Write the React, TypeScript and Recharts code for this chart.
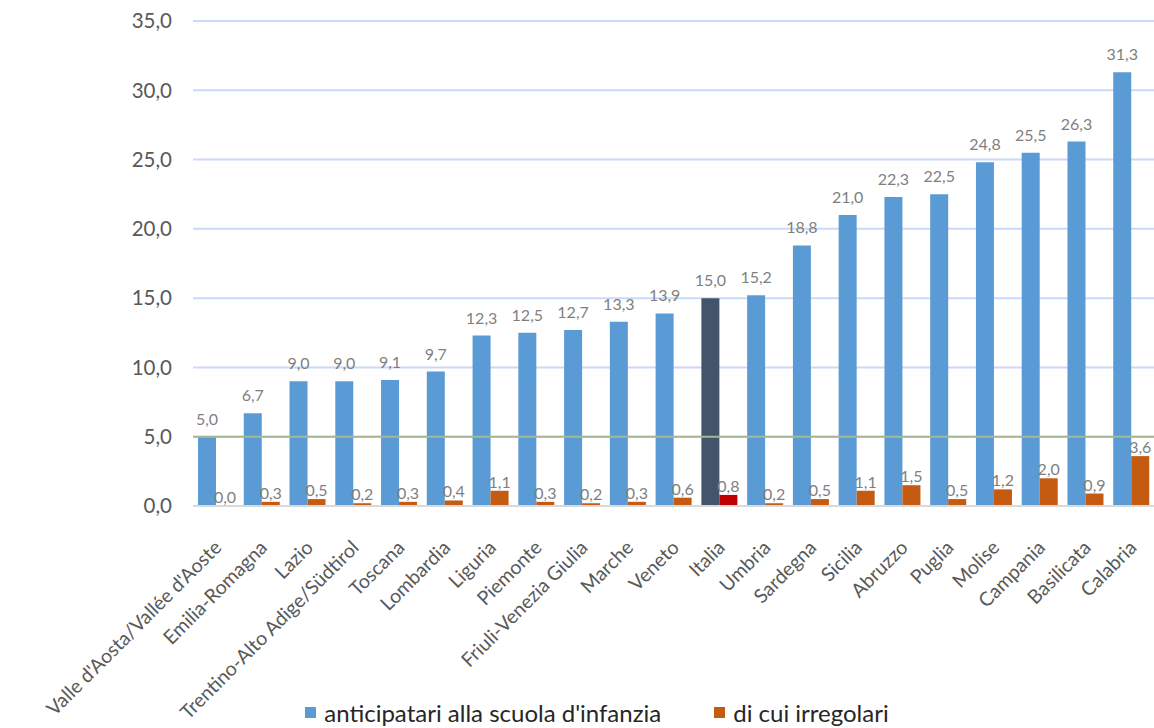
import React from 'react';
import {
    BarChart,
    Bar,
    XAxis,
    YAxis,
    CartesianGrid,
    ReferenceLine,
    Legend,
    LabelList,
    Cell
} from 'recharts';

const regions = [
    "Valle d'Aosta/Vallée d'Aoste",
    'Emilia-Romagna',
    'Lazio',
    'Trentino-Alto Adige/Südtirol',
    'Toscana',
    'Lombardia',
    'Liguria',
    'Piemonte',
    'Friuli-Venezia Giulia',
    'Marche',
    'Veneto',
    'Italia',
    'Umbria',
    'Sardegna',
    'Sicilia',
    'Abruzzo',
    'Puglia',
    'Molise',
    'Campania',
    'Basilicata',
    'Calabria'
];

const anticipatari = [5.0, 6.7, 9.0, 9.0, 9.1, 9.7, 12.3, 12.5, 12.7, 13.3, 13.9, 15.0, 15.2, 18.8, 21.0, 22.3, 22.5, 24.8, 25.5, 26.3, 31.3];
const irregolari = [0.0, 0.3, 0.5, 0.2, 0.3, 0.4, 1.1, 0.3, 0.2, 0.3, 0.6, 0.8, 0.2, 0.5, 1.1, 1.5, 0.5, 1.2, 2.0, 0.9, 3.6];

const yTicks = [0, 5, 10, 15, 20, 25, 30, 35];

const data = regions.map((name, i) => ({
    name,
    anticipatari: anticipatari[i],
    irregolari: irregolari[i]
}));

const FONT = 'Lato, "Open Sans", sans-serif';
const fmt = (v: any) => Number(v).toFixed(1).replace('.', ',');

function XTick({ x, y, payload }: any) {
    return (
        <g transform={`translate(${x + 2},${y + 30})`}>
            <text
                x={0}
                y={0}
                dy="0.35em"
                textAnchor="end"
                transform="rotate(-45)"
                fill="#595959"
                fontSize={19.5}
                fontFamily={FONT}
            >
                {payload.value}
            </text>
        </g>
    );
}

// value label drawn above each bar
function makeLabel(gap: number) {
    return (props: any) => {
        const { x, y, width, height, value } = props;
        const top = height > 1.5 ? y : y + height;
        return (
            <text
                x={x + width / 2}
                y={top - gap}
                textAnchor="middle"
                fill="#7F7F7F"
                fontSize={16}
                fontFamily={FONT}
            >
                {fmt(value)}
            </text>
        );
    };
}

function LegendBox() {
    const items = [
        { label: "anticipatari alla scuola d'infanzia", color: '#5B9BD5' },
        { label: 'di cui irregolari', color: '#C55A11' }
    ];
    return (
        <div style={{ display: 'flex', justifyContent: 'center', paddingLeft: 40, fontFamily: FONT, fontSize: 24, color: '#262626' }}>
            {items.map((it, i) => (
                <div key={it.label} style={{ display: 'flex', alignItems: 'center', marginLeft: i ? 53 : 0 }}>
                    <span style={{ width: 11, height: 11, background: it.color, display: 'inline-block', marginRight: 8 }} />
                    <span>{it.label}</span>
                </div>
            ))}
        </div>
    );
}

export default function App() {
    return (
        <div style={{ position: 'absolute', left: 0, top: 0, width: 1154, height: 728, background: '#fff' }}>
            <BarChart
                width={1154}
                height={728}
                data={data}
                margin={{ top: 21, right: 0, left: 0, bottom: 0 }}
                barGap={0}
                barSize={18}
            >
                <CartesianGrid vertical={false} stroke="#C9DAF8" strokeWidth={2} />
                <XAxis
                    dataKey="name"
                    interval={0}
                    tick={<XTick />}
                    tickLine={false}
                    axisLine={{ stroke: '#D9D9D9', strokeWidth: 2 }}
                    height={192}
                />
                <YAxis
                    domain={[0, 35]}
                    ticks={yTicks}
                    tickFormatter={fmt}
                    axisLine={false}
                    tickLine={false}
                    tickSize={0}
                    tickMargin={21}
                    width={193}
                    tick={{ fill: '#595959', fontSize: 20.5, fontFamily: FONT }}
                />
                <ReferenceLine y={5} stroke="#A3B899" strokeWidth={2} />
                <Legend verticalAlign="bottom" height={30} content={<LegendBox />} />
                <Bar dataKey="anticipatari" fill="#5B9BD5" isAnimationActive={false}>
                    {data.map((d) => (
                        <Cell key={d.name} fill={d.name === 'Italia' ? '#44546A' : '#5B9BD5'} />
                    ))}
                    <LabelList dataKey="anticipatari" content={makeLabel(12)} />
                </Bar>
                <Bar dataKey="irregolari" fill="#C55A11" minPointSize={1} isAnimationActive={false}>
                    {data.map((d) => (
                        <Cell
                            key={d.name}
                            fill={d.name === 'Italia' ? '#C00000' : '#C55A11'}
                            fillOpacity={d.irregolari === 0 ? 0 : 1}
                        />
                    ))}
                    <LabelList dataKey="irregolari" content={makeLabel(3)} />
                </Bar>
            </BarChart>
        </div>
    );
}
